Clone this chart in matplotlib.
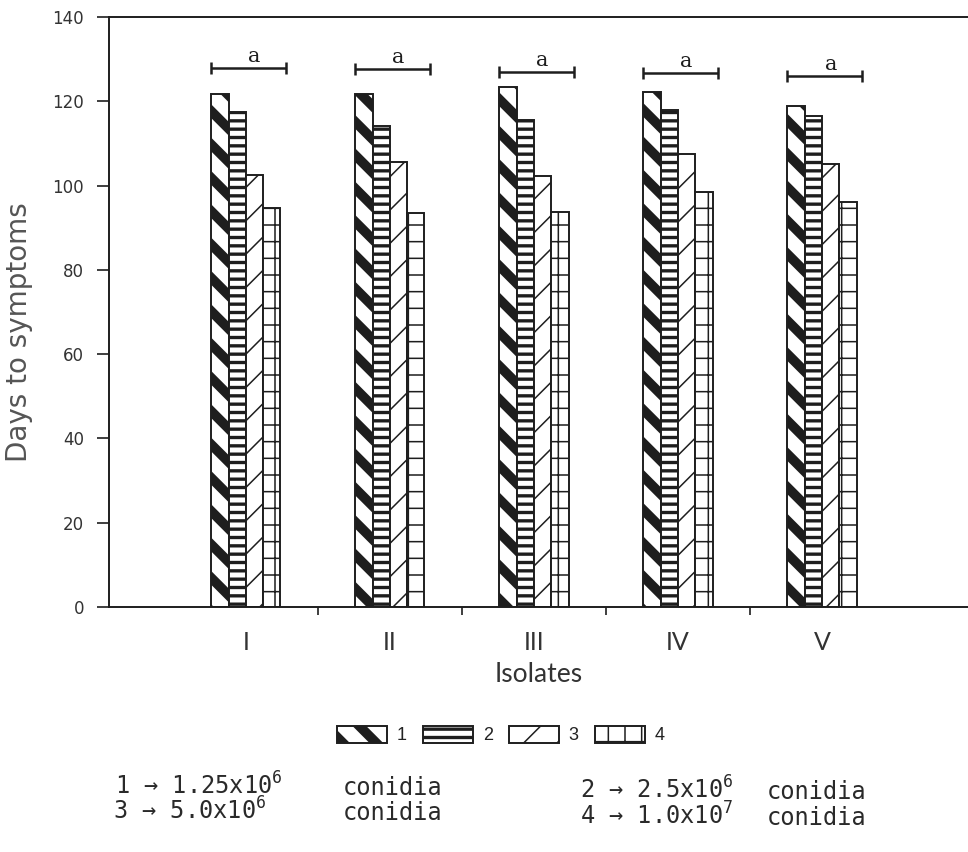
import matplotlib
matplotlib.use("Agg")
import matplotlib.pyplot as plt
import numpy as np
from matplotlib.patches import Patch
from matplotlib.ticker import FixedLocator

# ---------------- data ----------------
isolates = ["I", "II", "III", "IV", "V"]
dose_labels = ["1", "2", "3", "4"]
days_dose1 = [121.7, 121.7, 123.5, 122.3, 118.9]
days_dose2 = [117.5, 114.1, 115.6, 117.9, 116.5]
days_dose3 = [102.5, 105.7, 102.3, 107.5, 105.1]
days_dose4 = [94.6, 93.6, 93.7, 98.5, 96.2]
bracket_y = [127.9, 127.7, 127.0, 126.7, 126.1]
bracket_letters = ["a", "a", "a", "a", "a"]
y_ticks = [0, 20, 40, 60, 80, 100, 120, 140]
dose_texts = ["1 \u2192 1.25x10$^6$", "2 \u2192 2.5x10$^6$",
              "3 \u2192 5.0x10$^6$", "4 \u2192 1.0x10$^7$"]
unit_text = "conidia"

# ---------------- style ----------------
INK = "#1e1e1e"
plt.rcParams["hatch.color"] = INK
plt.rcParams["mathtext.fontset"] = "custom"
plt.rcParams["mathtext.rm"] = "DejaVu Sans Mono"
plt.rcParams["mathtext.it"] = "DejaVu Sans Mono"
plt.rcParams["mathtext.bf"] = "DejaVu Sans Mono"
plt.rcParams["mathtext.default"] = "rm"
hatches = ["\\", "--", "/", "+"]
hatch_lw = [7.0, 2.4, 1.1, 1.1]

W, H = 968, 852
fig = plt.figure(figsize=(W / 100, H / 100), dpi=100)
fig.patch.set_facecolor("white")
ax = fig.add_axes([109 / W, 1 - 607 / H, (969 - 109) / W, 590 / H])

series = [days_dose1, days_dose2, days_dose3, days_dose4]
x = np.arange(len(isolates))
bw = 0.12


def style_patch(p, i):
    p.set_hatch(hatches[i])
    if hasattr(p, "set_hatch_linewidth"):
        p.set_hatch_linewidth(hatch_lw[i])


for i, vals in enumerate(series):
    plt.rcParams["hatch.linewidth"] = hatch_lw[i]
    bars = ax.bar(x + (i - 1.5) * bw, vals, width=bw, facecolor="white",
                  edgecolor=INK, linewidth=1.4, zorder=2)
    for b in bars:
        style_patch(b, i)

# brackets with letters
ax.errorbar(x + 0.02, bracket_y, xerr=0.26, fmt="none", ecolor=INK,
            elinewidth=1.8, capsize=4.3, capthick=1.8, zorder=3)
for xi, yi, lt in zip(x, bracket_y, bracket_letters):
    ax.text(xi + 0.06, yi + 1.4, lt, ha="center", va="baseline",
            fontsize=15, family="DejaVu Serif", color=INK)

ax.set_xlim(-0.95, 5.02)
ax.set_ylim(0, 140)

ax.spines["right"].set_visible(False)
for s in ["left", "bottom", "top"]:
    ax.spines[s].set_linewidth(1.4)
    ax.spines[s].set_color(INK)

ax.set_yticks(y_ticks)
ax.set_yticklabels([str(v) for v in y_ticks], fontsize=12,
                   family="DejaVu Sans", color="#333333")
ax.tick_params(axis="y", direction="out", length=9, width=1.2, pad=9,
               colors=INK, labelcolor="#333333")

ax.set_xticks(x)
ax.set_xticklabels(isolates, fontsize=18, family="Lato", color="#333333")
ax.tick_params(axis="x", which="major", length=0, pad=17)
ax.xaxis.set_minor_locator(FixedLocator(x[:-1] + 0.5))
ax.tick_params(axis="x", which="minor", direction="out", length=6,
               width=1.2, colors=INK)

ax.set_xlabel("Isolates", fontsize=19, family="Lato", color="#333333")
ax.xaxis.set_label_coords(0.5, -0.093)

fig.text(19 / W, 1 - 332 / H, "Days to symptoms", rotation=90,
         ha="center", va="center", fontsize=20, family="DejaVu Sans",
         color="#555555")

# legend
handles = []
for i in range(4):
    plt.rcParams["hatch.linewidth"] = hatch_lw[i]
    p = Patch(facecolor="white", edgecolor=INK, linewidth=1.4)
    style_patch(p, i)
    handles.append(p)
leg = fig.legend(handles, dose_labels, ncol=4, loc="center",
                 bbox_to_anchor=(501 / W, 1 - 735 / H), frameon=False,
                 prop={"family": "Liberation Sans", "size": 13},
                 handlelength=2.75, handleheight=1.1, handletextpad=0.55,
                 columnspacing=0.9, labelcolor="#222222")
for i, p in enumerate(leg.get_patches()):
    style_patch(p, i)

# dose descriptions
mono = {"family": ["DejaVu Sans Mono"], "fontsize": 17, "color": "#2a2a2a"}
fig.text(115 / W, 1 - 795 / H, dose_texts[0], ha="left", va="baseline", **mono)
fig.text(343 / W, 1 - 795 / H, unit_text, ha="left", va="baseline", **mono)
fig.text(113 / W, 1 - 820 / H, dose_texts[2], ha="left", va="baseline", **mono)
fig.text(343 / W, 1 - 820 / H, unit_text, ha="left", va="baseline", **mono)
fig.text(580 / W, 1 - 799 / H, dose_texts[1], ha="left", va="baseline", **mono)
fig.text(767 / W, 1 - 799 / H, unit_text, ha="left", va="baseline", **mono)
fig.text(580 / W, 1 - 825 / H, dose_texts[3], ha="left", va="baseline", **mono)
fig.text(767 / W, 1 - 825 / H, unit_text, ha="left", va="baseline", **mono)

fig.savefig("out.png", dpi=100, facecolor="white")
